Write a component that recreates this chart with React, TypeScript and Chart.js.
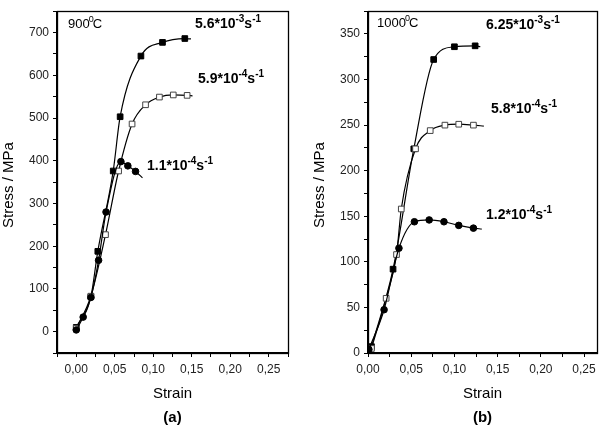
import React, { useEffect, useRef } from 'react';
import { Chart, registerables } from 'chart.js';

Chart.register(...registerables);

const FONT = "'Liberation Sans', Arial, Helvetica, sans-serif";

// ---------- Panel (a): 900 °C ----------
// last value of each series is the end of the curve (drawn without marker)
const aHighStrain = [0.0, 0.019, 0.028, 0.048, 0.057, 0.084, 0.112, 0.141, 0.149];
const aHighStress = [10, 82, 188, 376, 503, 645, 677, 686, 685];
const aMidStrain = [0.0, 0.019, 0.038, 0.055, 0.0725, 0.09, 0.108, 0.126, 0.144, 0.151];
const aMidStress = [8, 83, 227, 376, 486, 531, 549, 554, 553, 552];
const aLowStrain = [0.0, 0.009, 0.019, 0.029, 0.0387, 0.058, 0.067, 0.077, 0.086];
const aLowStress = [4, 34, 80, 167, 280, 398, 388, 375, 360];

const aXTicks = [-0.025, 0, 0.025, 0.05, 0.075, 0.1, 0.125, 0.15, 0.175, 0.2, 0.225, 0.25, 0.275];
const aYTicks = [-50, 0, 50, 100, 150, 200, 250, 300, 350, 400, 450, 500, 550, 600, 650, 700, 750];

// ---------- Panel (b): 1000 °C ----------
const bHighStrain = [0.004, 0.029, 0.053, 0.076, 0.1, 0.124, 0.13];
const bHighStress = [7, 92, 224, 322, 336, 337, 336];
const bMidStrain = [0.004, 0.021, 0.033, 0.0385, 0.055, 0.072, 0.089, 0.105, 0.122, 0.134];
const bMidStress = [5, 60, 108, 158, 224, 244, 250, 251, 250, 249];
const bLowStrain = [0.001, 0.0186, 0.0358, 0.0537, 0.0708, 0.0879, 0.105, 0.122, 0.1316];
const bLowStress = [4, 47.5, 115, 144, 146, 144, 140, 137, 136];

const bXTicks = [0, 0.025, 0.05, 0.075, 0.1, 0.125, 0.15, 0.175, 0.2, 0.225, 0.25];
const bYTicks = [0, 25, 50, 75, 100, 125, 150, 175, 200, 225, 250, 275, 300, 325, 350, 375];

const toXY = (xs: number[], ys: number[]) => xs.map((x, i) => ({ x, y: ys[i] }));

type Marker = 'filledSquare' | 'openSquare' | 'circle';

function series(xs: number[], ys: number[], marker: Marker) {
  const last = xs.length - 1;
  const isSq = marker !== 'circle';
  const r = isSq ? 4.0 : 3.3;
  return {
    data: toXY(xs, ys),
    borderColor: '#000',
    borderWidth: 1.2,
    cubicInterpolationMode: 'monotone' as const,
    pointStyle: isSq ? 'rect' : 'circle',
    pointRadius: (c: any) => (c.dataIndex === last ? 0 : r),
    pointBackgroundColor: marker === 'openSquare' ? '#fff' : '#000',
    pointBorderColor: marker === 'openSquare' ? '#444' : '#000',
    pointBorderWidth: 1,
  };
}

function drawRate(ctx: CanvasRenderingContext2D, x: number, y: number, base: string, e1: string, unit: string, e2: string) {
  ctx.textAlign = 'left';
  ctx.textBaseline = 'alphabetic';
  ctx.fillStyle = '#000';
  const big = `bold 14px ${FONT}`;
  const small = `bold 10px ${FONT}`;
  ctx.font = big;
  ctx.fillText(base, x, y);
  x += ctx.measureText(base).width;
  ctx.font = small;
  ctx.fillText(e1, x, y - 6);
  x += ctx.measureText(e1).width;
  ctx.font = big;
  ctx.fillText(unit, x, y);
  x += ctx.measureText(unit).width;
  ctx.font = small;
  ctx.fillText(e2, x, y - 6);
}

function drawTemp(ctx: CanvasRenderingContext2D, x: number, y: number, num: string) {
  ctx.textAlign = 'left';
  ctx.textBaseline = 'alphabetic';
  ctx.fillStyle = '#000';
  ctx.font = `13px ${FONT}`;
  ctx.fillText(num, x, y);
  x += ctx.measureText(num).width;
  ctx.font = `9px ${FONT}`;
  ctx.fillText('0', x - 1, y - 6);
  x += ctx.measureText('0').width - 2;
  ctx.font = `13px ${FONT}`;
  ctx.fillText('C', x, y);
}

interface PanelCfg {
  width: number;
  yWidth: number;
  padRight: number;
  xMin: number;
  xMax: number;
  yMin: number;
  yMax: number;
  xTicks: number[];
  yTicks: number[];
  yMajor: number;
  datasets: any[];
  caption: string;
  yTitleX: number;
  annot: (ctx: CanvasRenderingContext2D) => void;
}

function Panel({ cfg, left }: { cfg: PanelCfg; left: number }) {
  const ref = useRef<HTMLCanvasElement>(null);
  useEffect(() => {
    const canvas = ref.current!;
    const textPlugin = {
      id: 'panelText',
      afterDraw(chart: any) {
        const ctx: CanvasRenderingContext2D = chart.ctx;
        const a = chart.chartArea;
        ctx.save();
        ctx.strokeStyle = '#000';
        ctx.lineWidth = 1.3;
        ctx.strokeRect(Math.round(a.left) + 0.5, Math.round(a.top) + 0.5, Math.round(a.right - a.left), Math.round(a.bottom - a.top));
        ctx.fillStyle = '#000';
        ctx.font = `15px ${FONT}`;
        ctx.textAlign = 'center';
        ctx.textBaseline = 'middle';
        const cx = (a.left + a.right) / 2;
        ctx.fillText('Strain', cx, 394);
        ctx.font = `bold 15px ${FONT}`;
        ctx.fillText(cfg.caption, cx, 418);
        ctx.save();
        ctx.translate(cfg.yTitleX, (a.top + a.bottom) / 2 + 3);
        ctx.rotate(-Math.PI / 2);
        ctx.font = `15px ${FONT}`;
        ctx.fillText('Stress / MPa', 0, 0);
        ctx.restore();
        cfg.annot(ctx);
        ctx.restore();
      },
    };
    const chart = new Chart(canvas, {
      type: 'line',
      data: { datasets: cfg.datasets },
      options: {
        animation: false,
        responsive: false,
        layout: { padding: { left: 0, right: cfg.padRight, top: 1, bottom: 0 } },
        plugins: { legend: { display: false }, tooltip: { enabled: false } },
        scales: {
          x: {
            type: 'linear',
            min: cfg.xMin,
            max: cfg.xMax,
            afterFit: (s: any) => { s.height = 75; },
            afterBuildTicks: (s: any) => { s.ticks = cfg.xTicks.map((v) => ({ value: v })); },
            grid: { drawOnChartArea: false, drawTicks: true, tickLength: 4, tickColor: '#000', color: '#000' },
            border: { display: true, color: '#000', width: 1.3 },
            ticks: {
              autoSkip: false,
              maxRotation: 0,
              padding: 5,
              color: '#222',
              font: { family: FONT, size: 12 },
              callback: (v: any) => {
                const m = Math.round(Number(v) * 1000);
                return m >= 0 && m % 50 === 0 ? (m / 1000).toFixed(2).replace('.', ',') : '';
              },
            },
          },
          y: {
            type: 'linear',
            min: cfg.yMin,
            max: cfg.yMax,
            afterFit: (s: any) => { s.width = cfg.yWidth; },
            afterBuildTicks: (s: any) => { s.ticks = cfg.yTicks.map((v) => ({ value: v })); },
            grid: { drawOnChartArea: false, drawTicks: true, tickLength: 4, tickColor: '#000', color: '#000' },
            border: { display: true, color: '#000', width: 1.3 },
            ticks: {
              autoSkip: false,
              padding: 4,
              color: '#222',
              font: { family: FONT, size: 12 },
              callback: (v: any) => {
                const n = Number(v);
                return n >= 0 && n % cfg.yMajor === 0 ? String(n) : '';
              },
            },
          },
        },
      } as any,
      plugins: [textPlugin],
    });
    return () => chart.destroy();
  }, [cfg]);
  return (
    <canvas
      ref={ref}
      width={cfg.width}
      height={428}
      style={{ position: 'absolute', left, top: 0, width: cfg.width, height: 428 }}
    />
  );
}

const cfgA: PanelCfg = {
  width: 300,
  yWidth: 57,
  padRight: 12,
  xMin: -0.025,
  xMax: 0.275,
  yMin: -50,
  yMax: 750,
  xTicks: aXTicks,
  yTicks: aYTicks,
  yMajor: 100,
  caption: '(a)',
  yTitleX: 9,
  datasets: [
    series(aLowStrain, aLowStress, 'circle'),
    series(aMidStrain, aMidStress, 'openSquare'),
    series(aHighStrain, aHighStress, 'filledSquare'),
  ],
  annot: (ctx) => {
    drawTemp(ctx, 68, 28, '900');
    drawRate(ctx, 195, 28, '5.6*10', '-3', 's', '-1');
    drawRate(ctx, 198, 83, '5.9*10', '-4', 's', '-1');
    drawRate(ctx, 147, 170, '1.1*10', '-4', 's', '-1');
  },
};

const cfgB: PanelCfg = {
  width: 302,
  yWidth: 68,
  padRight: 2,
  xMin: 0,
  xMax: 0.265,
  yMin: 0,
  yMax: 375,
  xTicks: bXTicks,
  yTicks: bYTicks,
  yMajor: 50,
  caption: '(b)',
  yTitleX: 20,
  datasets: [
    series(bLowStrain, bLowStress, 'circle'),
    series(bMidStrain, bMidStress, 'openSquare'),
    series(bHighStrain, bHighStress, 'filledSquare'),
  ],
  annot: (ctx) => {
    drawTemp(ctx, 77, 27, '1000');
    drawRate(ctx, 186, 29, '6.25*10', '-3', 's', '-1');
    drawRate(ctx, 191, 113, '5.8*10', '-4', 's', '-1');
    drawRate(ctx, 186, 219, '1.2*10', '-4', 's', '-1');
  },
};

export default function App() {
  return (
    <div style={{ position: 'absolute', left: 0, top: 0, width: 602, height: 428, background: '#fff', overflow: 'hidden' }}>
      <Panel cfg={cfgA} left={0} />
      <Panel cfg={cfgB} left={300} />
    </div>
  );
}
